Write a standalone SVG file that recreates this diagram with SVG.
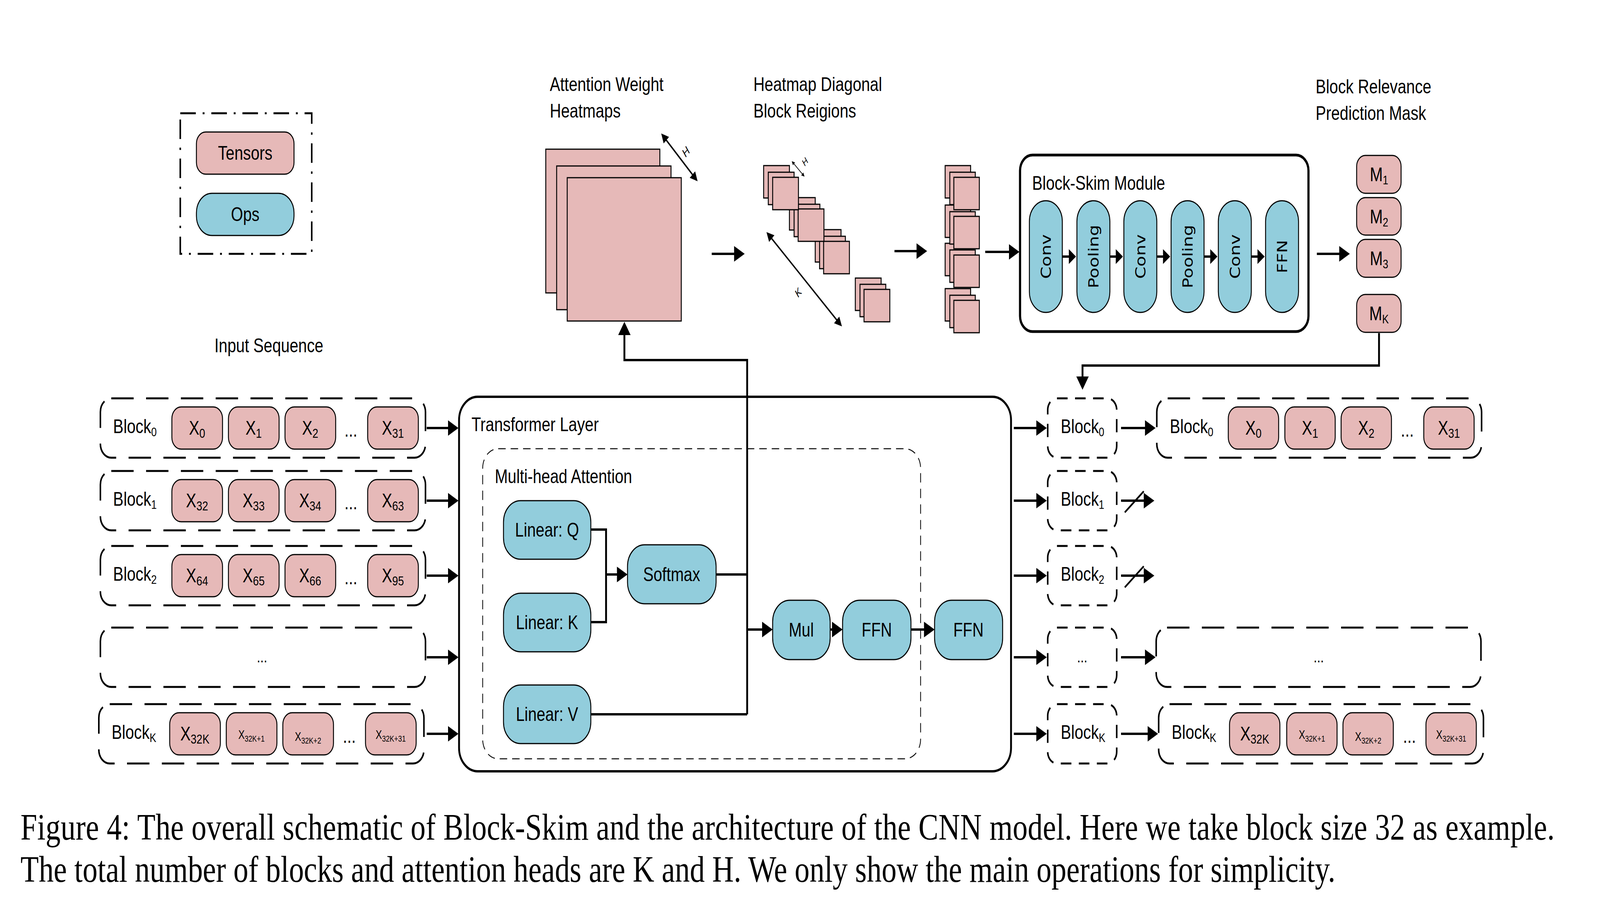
<svg xmlns="http://www.w3.org/2000/svg" width="5148" height="2366" viewBox="0 0 5148 2366" preserveAspectRatio="none">
<style>
:root{width:100vw;height:100vh}
text{font-family:"Liberation Sans",Arial,sans-serif;fill:#000}
.lbl{font-size:50px}
.mid{text-anchor:middle}
.ten{fill:#E6B9B8;stroke:#000;stroke-width:3}
.op{fill:#92CDDC;stroke:#000;stroke-width:3}
.hm{fill:#E6B9B8;stroke:#000;stroke-width:3}
.row{fill:none;stroke:#000;stroke-width:5;stroke-dasharray:72 40}
.mrow{fill:none;stroke:#000;stroke-width:5;stroke-dasharray:34 24}
.ln{fill:none;stroke:#000;stroke-width:6}
.ar{fill:none;stroke:#000;stroke-width:6;marker-end:url(#ah)}
.ars{fill:none;stroke:#000;stroke-width:6;marker-end:url(#ahs)}
.cnn{font-family:"DejaVu Sans",Verdana,sans-serif;font-size:45px;text-anchor:middle}
.cap{font-family:"Liberation Serif","Times New Roman",serif;font-size:96px}
.it{font-style:italic;text-anchor:middle}
</style>
<defs>
<marker id="ah" markerUnits="userSpaceOnUse" markerWidth="40" markerHeight="44" refX="4" refY="20" orient="auto"><path d="M0,0 L34,20 L0,40 z" fill="#000"/></marker>
<marker id="ahs" markerUnits="userSpaceOnUse" markerWidth="30" markerHeight="40" refX="3" refY="19" orient="auto"><path d="M0,0 L23,19 L0,38 z" fill="#000"/></marker>
<marker id="hd" markerUnits="userSpaceOnUse" markerWidth="30" markerHeight="30" refX="3" refY="12" orient="auto-start-reverse"><path d="M0,0 L24,12 L0,24 z" fill="#000"/></marker>
<marker id="hds" markerUnits="userSpaceOnUse" markerWidth="14" markerHeight="14" refX="1" refY="5" orient="auto-start-reverse"><path d="M0,0 L10,5 L0,10 z" fill="#000"/></marker>
</defs>
<rect id="bg" width="5148" height="2366" fill="#fff"/>

<g id="legend">
<rect x="580" y="290" width="423" height="360" fill="none" stroke="#000" stroke-width="5" stroke-dasharray="50 22 6 22"/>
<rect class="ten" x="632" y="338" width="314" height="108" rx="30"/>
<text class="lbl mid" x="789" y="409">Tensors</text>
<rect class="op" x="632" y="495" width="314" height="108" rx="50"/>
<text class="lbl mid" x="789" y="566">Ops</text>
</g>

<g id="labels">
<text class="lbl" x="690" y="902">Input Sequence</text>
<text class="lbl" x="1769" y="233">Attention Weight</text>
<text class="lbl" x="1769" y="301">Heatmaps</text>
<text class="lbl" x="2424" y="233">Heatmap Diagonal</text>
<text class="lbl" x="2424" y="301">Block Reigions</text>
<text class="lbl" x="4233" y="239">Block Relevance</text>
<text class="lbl" x="4233" y="307">Prediction Mask</text>
</g>

<g id="heatmaps">
<rect class="hm" x="1756" y="382" width="367" height="368"/>
<rect class="hm" x="1791" y="425" width="368" height="368"/>
<rect class="hm" x="1825" y="455" width="367" height="367"/>
<line x1="2142" y1="357" x2="2230" y2="449" stroke="#000" stroke-width="4" marker-start="url(#hd)" marker-end="url(#hd)"/>
<text class="it" x="2214" y="396" font-size="30" transform="rotate(-45 2214 396)">H</text>
</g>

<g id="diagonal-blocks">
<rect class="hm" x="2752" y="712" width="83" height="83"/>
<rect class="hm" x="2767" y="728" width="83" height="83"/>
<rect class="hm" x="2780" y="741" width="83" height="83"/>
<rect class="hm" x="2623" y="588" width="83" height="83"/>
<rect class="hm" x="2637" y="605" width="83" height="83"/>
<rect class="hm" x="2650" y="618" width="83" height="83"/>
<rect class="hm" x="2540" y="506" width="83" height="83"/>
<rect class="hm" x="2555" y="523" width="83" height="83"/>
<rect class="hm" x="2568" y="535" width="83" height="83"/>
<rect class="hm" x="2457" y="424" width="83" height="83"/>
<rect class="hm" x="2472" y="441" width="83" height="83"/>
<rect class="hm" x="2486" y="454" width="83" height="83"/>
<line x1="2554" y1="419" x2="2582" y2="446" stroke="#000" stroke-width="2" marker-start="url(#hds)" marker-end="url(#hds)"/>
<text class="it" x="2596" y="420" font-size="24" transform="rotate(-45 2596 420)">H</text>
<line x1="2481" y1="609" x2="2694" y2="821" stroke="#000" stroke-width="4" marker-start="url(#hd)" marker-end="url(#hd)"/>
<text class="it" x="2575" y="756" font-size="28" transform="rotate(-45 2575 756)">K</text>
</g>

<g id="block-stacks">
<rect class="hm" x="3041" y="739" width="82" height="83"/>
<rect class="hm" x="3056" y="756" width="82" height="83"/>
<rect class="hm" x="3069" y="769" width="82" height="83"/>
<rect class="hm" x="3041" y="623" width="82" height="83"/>
<rect class="hm" x="3056" y="640" width="82" height="83"/>
<rect class="hm" x="3069" y="653" width="82" height="83"/>
<rect class="hm" x="3041" y="525" width="82" height="83"/>
<rect class="hm" x="3056" y="542" width="82" height="83"/>
<rect class="hm" x="3069" y="554" width="82" height="83"/>
<rect class="hm" x="3041" y="424" width="82" height="83"/>
<rect class="hm" x="3056" y="441" width="82" height="83"/>
<rect class="hm" x="3069" y="454" width="82" height="83"/>
</g>

<g id="block-skim-module">
<rect x="3282" y="397" width="928" height="452" rx="40" fill="none" stroke="#000" stroke-width="7"/>
<text class="lbl" x="3321" y="486">Block-Skim Module</text>
<rect class="op" x="3312" y="514" width="106" height="286" rx="53"/>
<rect class="op" x="3465" y="514" width="106" height="286" rx="53"/>
<rect class="op" x="3616" y="514" width="106" height="286" rx="53"/>
<rect class="op" x="3768" y="514" width="106" height="286" rx="53"/>
<rect class="op" x="3920" y="514" width="106" height="286" rx="53"/>
<rect class="op" x="4072" y="514" width="106" height="286" rx="53"/>
<text class="cnn" transform="translate(3365 657) rotate(-90)" y="16">Conv</text>
<text class="cnn" transform="translate(3518 657) rotate(-90)" y="16">Pooling</text>
<text class="cnn" transform="translate(3669 657) rotate(-90)" y="16">Conv</text>
<text class="cnn" transform="translate(3821 657) rotate(-90)" y="16">Pooling</text>
<text class="cnn" transform="translate(3973 657) rotate(-90)" y="16">Conv</text>
<text class="cnn" transform="translate(4125 657) rotate(-90)" y="16">FFN</text>
</g>

<g id="mask">
<rect class="ten" x="4365" y="398" width="143" height="97" rx="28"/>
<rect class="ten" x="4365" y="506" width="143" height="96" rx="28"/>
<rect class="ten" x="4365" y="613" width="143" height="97" rx="28"/>
<rect class="ten" x="4365" y="754" width="143" height="97" rx="28"/>
<text class="lbl mid" x="4437" y="464">M<tspan font-size="32" dy="8">1</tspan></text>
<text class="lbl mid" x="4437" y="572">M<tspan font-size="32" dy="8">2</tspan></text>
<text class="lbl mid" x="4437" y="679">M<tspan font-size="32" dy="8">3</tspan></text>
<text class="lbl mid" x="4437" y="820">M<tspan font-size="32" dy="8">K</tspan></text>
</g>

<g id="input-sequence">
<rect class="row" x="323" y="1020" width="1046" height="152" rx="35"/>
<text class="lbl" x="364" y="1109">Block<tspan font-size="32" dy="8">0</tspan></text>
<rect class="ten" x="553" y="1042" width="163" height="108" rx="30"/>
<rect class="ten" x="735" y="1042" width="163" height="108" rx="30"/>
<rect class="ten" x="917" y="1042" width="163" height="108" rx="30"/>
<rect class="ten" x="1183" y="1042" width="163" height="108" rx="30"/>
<text class="lbl mid" x="634" y="1113">X<tspan font-size="34" dy="8">0</tspan></text>
<text class="lbl mid" x="816" y="1113">X<tspan font-size="34" dy="8">1</tspan></text>
<text class="lbl mid" x="998" y="1113">X<tspan font-size="34" dy="8">2</tspan></text>
<text class="lbl mid" x="1264" y="1113">X<tspan font-size="34" dy="8">31</tspan></text>
<text class="lbl mid" x="1129" y="1118">...</text>

<rect class="row" x="323" y="1206" width="1046" height="152" rx="35"/>
<text class="lbl" x="364" y="1295">Block<tspan font-size="32" dy="8">1</tspan></text>
<rect class="ten" x="553" y="1228" width="163" height="108" rx="30"/>
<rect class="ten" x="735" y="1228" width="163" height="108" rx="30"/>
<rect class="ten" x="917" y="1228" width="163" height="108" rx="30"/>
<rect class="ten" x="1183" y="1228" width="163" height="108" rx="30"/>
<text class="lbl mid" x="634" y="1299">X<tspan font-size="34" dy="8">32</tspan></text>
<text class="lbl mid" x="816" y="1299">X<tspan font-size="34" dy="8">33</tspan></text>
<text class="lbl mid" x="998" y="1299">X<tspan font-size="34" dy="8">34</tspan></text>
<text class="lbl mid" x="1264" y="1299">X<tspan font-size="34" dy="8">63</tspan></text>
<text class="lbl mid" x="1129" y="1304">...</text>

<rect class="row" x="323" y="1398" width="1046" height="152" rx="35"/>
<text class="lbl" x="364" y="1487">Block<tspan font-size="32" dy="8">2</tspan></text>
<rect class="ten" x="553" y="1420" width="163" height="108" rx="30"/>
<rect class="ten" x="735" y="1420" width="163" height="108" rx="30"/>
<rect class="ten" x="917" y="1420" width="163" height="108" rx="30"/>
<rect class="ten" x="1183" y="1420" width="163" height="108" rx="30"/>
<text class="lbl mid" x="634" y="1491">X<tspan font-size="34" dy="8">64</tspan></text>
<text class="lbl mid" x="816" y="1491">X<tspan font-size="34" dy="8">65</tspan></text>
<text class="lbl mid" x="998" y="1491">X<tspan font-size="34" dy="8">66</tspan></text>
<text class="lbl mid" x="1264" y="1491">X<tspan font-size="34" dy="8">95</tspan></text>
<text class="lbl mid" x="1129" y="1496">...</text>

<rect class="row" x="323" y="1607" width="1046" height="152" rx="35"/>
<text class="mid" x="843" y="1696" font-size="40">...</text>

<rect class="row" x="318" y="1803" width="1046" height="152" rx="35"/>
<text class="lbl" x="359" y="1892">Block<tspan font-size="32" dy="8">K</tspan></text>
<rect class="ten" x="546" y="1825" width="163" height="108" rx="30"/>
<rect class="ten" x="728" y="1825" width="163" height="108" rx="30"/>
<rect class="ten" x="910" y="1825" width="163" height="108" rx="30"/>
<rect class="ten" x="1176" y="1825" width="163" height="108" rx="30"/>
<text class="lbl mid" x="627" y="1896">X<tspan font-size="34" dy="8">32K</tspan></text>
<text class="mid" x="809" y="1892" font-size="31">X<tspan font-size="22" dy="7">32K+1</tspan></text>
<text class="mid" x="991" y="1897" font-size="31">X<tspan font-size="22" dy="7">32K+2</tspan></text>
<text class="mid" x="1257" y="1892" font-size="31">X<tspan font-size="22" dy="7">32K+31</tspan></text>
<text class="lbl mid" x="1124" y="1902">...</text>
</g>

<g id="transformer-layer">
<rect x="1477" y="1016" width="1776" height="959" rx="60" fill="none" stroke="#000" stroke-width="6"/>
<text class="lbl" x="1517" y="1104">Transformer Layer</text>
<rect x="1553" y="1149" width="1409" height="794" rx="50" fill="none" stroke="#000" stroke-width="2.5" stroke-dasharray="24 16"/>
<text class="lbl" x="1592" y="1237">Multi-head Attention</text>
<rect class="op" x="1620" y="1282" width="281" height="150" rx="55"/>
<text class="lbl mid" x="1760" y="1374">Linear: Q</text>
<rect class="op" x="1620" y="1519" width="281" height="150" rx="55"/>
<text class="lbl mid" x="1760" y="1611">Linear: K</text>
<rect class="op" x="1620" y="1754" width="281" height="150" rx="55"/>
<text class="lbl mid" x="1760" y="1846">Linear: V</text>
<rect class="op" x="2019" y="1395" width="285" height="151" rx="55"/>
<text class="lbl mid" x="2161" y="1488">Softmax</text>
<rect class="op" x="2486" y="1537" width="185" height="152" rx="55"/>
<text class="lbl mid" x="2578" y="1630">Mul</text>
<rect class="op" x="2711" y="1537" width="220" height="152" rx="55"/>
<text class="lbl mid" x="2821" y="1630">FFN</text>
<rect class="op" x="3007" y="1537" width="219" height="152" rx="55"/>
<text class="lbl mid" x="3116" y="1630">FFN</text>
</g>

<g id="mask-blocks">
<rect class="mrow" x="3371" y="1020" width="222" height="152" rx="30"/>
<text class="lbl" x="3413" y="1109">Block<tspan font-size="32" dy="8">0</tspan></text>
<rect class="mrow" x="3371" y="1206" width="222" height="152" rx="30"/>
<text class="lbl" x="3413" y="1295">Block<tspan font-size="32" dy="8">1</tspan></text>
<rect class="mrow" x="3371" y="1398" width="222" height="152" rx="30"/>
<text class="lbl" x="3413" y="1487">Block<tspan font-size="32" dy="8">2</tspan></text>
<rect class="mrow" x="3371" y="1607" width="222" height="152" rx="30"/>
<text class="mid" x="3482" y="1696" font-size="40">...</text>
<rect class="mrow" x="3371" y="1803" width="222" height="152" rx="30"/>
<text class="lbl" x="3413" y="1892">Block<tspan font-size="32" dy="8">K</tspan></text>
</g>

<g id="output-sequence">
<rect class="row" x="3722" y="1020" width="1045" height="152" rx="35"/>
<text class="lbl" x="3764" y="1109">Block<tspan font-size="32" dy="8">0</tspan></text>
<rect class="ten" x="3952" y="1042" width="162" height="108" rx="30"/>
<rect class="ten" x="4134" y="1042" width="162" height="108" rx="30"/>
<rect class="ten" x="4315" y="1042" width="162" height="108" rx="30"/>
<rect class="ten" x="4581" y="1042" width="162" height="108" rx="30"/>
<text class="lbl mid" x="4033" y="1113">X<tspan font-size="34" dy="8">0</tspan></text>
<text class="lbl mid" x="4215" y="1113">X<tspan font-size="34" dy="8">1</tspan></text>
<text class="lbl mid" x="4396" y="1113">X<tspan font-size="34" dy="8">2</tspan></text>
<text class="lbl mid" x="4662" y="1113">X<tspan font-size="34" dy="8">31</tspan></text>
<text class="lbl mid" x="4528" y="1118">...</text>

<rect class="row" x="3720" y="1607" width="1045" height="152" rx="35"/>
<text class="mid" x="4243" y="1696" font-size="40">...</text>

<rect class="row" x="3728" y="1803" width="1045" height="152" rx="35"/>
<text class="lbl" x="3770" y="1892">Block<tspan font-size="32" dy="8">K</tspan></text>
<rect class="ten" x="3956" y="1825" width="162" height="108" rx="30"/>
<rect class="ten" x="4140" y="1825" width="162" height="108" rx="30"/>
<rect class="ten" x="4321" y="1825" width="162" height="108" rx="30"/>
<rect class="ten" x="4588" y="1825" width="162" height="108" rx="30"/>
<text class="lbl mid" x="4037" y="1896">X<tspan font-size="34" dy="8">32K</tspan></text>
<text class="mid" x="4221" y="1892" font-size="31">X<tspan font-size="22" dy="7">32K+1</tspan></text>
<text class="mid" x="4402" y="1897" font-size="31">X<tspan font-size="22" dy="7">32K+2</tspan></text>
<text class="mid" x="4669" y="1892" font-size="31">X<tspan font-size="22" dy="7">32K+31</tspan></text>
<text class="lbl mid" x="4535" y="1902">...</text>
</g>

<g id="connectors">
<line class="ar" x1="2290" y1="650" x2="2366" y2="650" stroke-width="8"/>
<line class="ar" x1="2878" y1="643" x2="2953" y2="643" stroke-width="8"/>
<line class="ar" x1="3170" y1="645" x2="3250" y2="645" stroke-width="8"/>
<line class="ar" x1="4237" y1="650" x2="4313" y2="650" stroke-width="8"/>
<line class="ars" x1="3418" y1="657" x2="3442" y2="657"/>
<line class="ars" x1="3571" y1="657" x2="3593" y2="657"/>
<line class="ars" x1="3722" y1="657" x2="3745" y2="657"/>
<line class="ars" x1="3874" y1="657" x2="3897" y2="657"/>
<line class="ars" x1="4026" y1="657" x2="4049" y2="657"/>
<path class="ar" d="M4437,853 V936 H3483 V968" stroke-width="5"/>

<line class="ar" x1="1373" y1="1096" x2="1445" y2="1096"/>
<line class="ar" x1="1373" y1="1282" x2="1445" y2="1282"/>
<line class="ar" x1="1373" y1="1474" x2="1445" y2="1474"/>
<line class="ar" x1="1373" y1="1683" x2="1445" y2="1683"/>
<line class="ar" x1="1373" y1="1879" x2="1445" y2="1879"/>

<path class="ln" d="M1901,1356 H1950 V1593 H1901"/>
<line class="ar" x1="1950" y1="1471" x2="1989" y2="1471"/>
<path class="ln" d="M2304,1471 H2404"/>
<path class="ln" d="M1901,1829 H2404"/>
<path class="ar" d="M2404,1829 V922 H2009 V854"/>
<line class="ar" x1="2404" y1="1612" x2="2456" y2="1612"/>
<line class="ar" x1="2671" y1="1612" x2="2681" y2="1612"/>
<line class="ar" x1="2931" y1="1612" x2="2977" y2="1612"/>

<line class="ar" x1="3262" y1="1096" x2="3338" y2="1096"/>
<line class="ar" x1="3262" y1="1282" x2="3338" y2="1282"/>
<line class="ar" x1="3262" y1="1474" x2="3338" y2="1474"/>
<line class="ar" x1="3262" y1="1683" x2="3338" y2="1683"/>
<line class="ar" x1="3262" y1="1879" x2="3338" y2="1879"/>

<line class="ar" x1="3607" y1="1096" x2="3688" y2="1096"/>
<line class="ar" x1="3607" y1="1282" x2="3684" y2="1282"/>
<line x1="3619" y1="1312" x2="3680" y2="1258" stroke="#000" stroke-width="5"/>
<line class="ar" x1="3607" y1="1474" x2="3684" y2="1474"/>
<line x1="3619" y1="1504" x2="3680" y2="1450" stroke="#000" stroke-width="5"/>
<line class="ar" x1="3607" y1="1683" x2="3688" y2="1683"/>
<line class="ar" x1="3607" y1="1879" x2="3696" y2="1879"/>
</g>

<g id="caption">
<text class="cap" x="66" y="2150" textLength="4936" lengthAdjust="spacing">Figure 4: The overall schematic of Block-Skim and the architecture of the CNN model. Here we take block size 32 as example.</text>
<text class="cap" x="66" y="2258">The total number of blocks and attention heads are K and H. We only show the main operations for simplicity.</text>
</g>
</svg>
